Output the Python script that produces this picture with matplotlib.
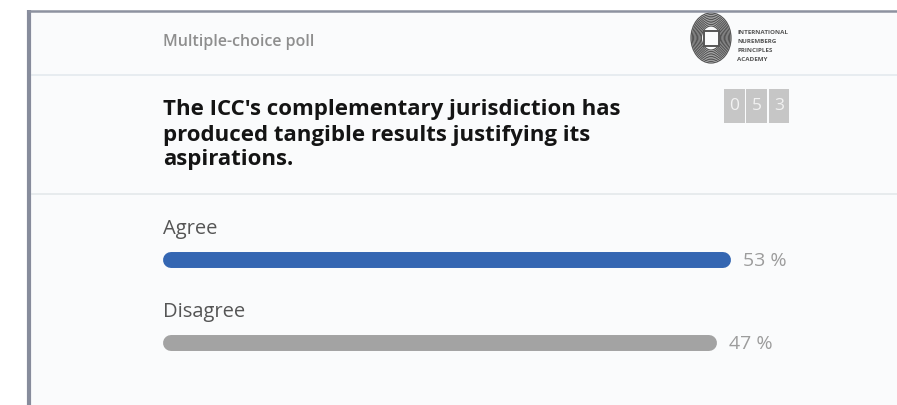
import matplotlib
matplotlib.use("Agg")
import matplotlib.pyplot as plt
from matplotlib.patches import Rectangle, Ellipse

plt.rcParams['font.family'] = ['Open Sans', 'DejaVu Sans']

# ---- data ----
poll_type = "Multiple-choice poll"
question_lines = ["The ICC's complementary jurisdiction has",
                  "produced tangible results justifying its",
                  "aspirations."]
categories = ["Agree", "Disagree"]
percentages = [53, 47]
bar_colors = ["#3466b2", "#a3a3a3"]
vote_count_digits = ["0", "5", "3"]
logo_lines = ["INTERNATIONAL", "NUREMBERG", "PRINCIPLES", "ACADEMY"]

W, H = 897, 405
fig = plt.figure(figsize=(W / 100, H / 100), dpi=100)
fig.patch.set_facecolor("white")

ax = fig.add_axes([0, 0, 1, 1])
ax.set_xlim(0, W)
ax.set_ylim(H, 0)
ax.axis("off")

# panel background + border
ax.add_patch(Rectangle((29, 10), W - 29, H - 10, facecolor="#fafbfc", edgecolor="none", zorder=0))
ax.plot([29, 29], [10, H], color="#878c9c", lw=3.0, solid_capstyle="butt", zorder=3)
ax.plot([28, W], [10.5, 10.5], color="#8d92a0", lw=1.8, solid_capstyle="butt", zorder=3)
ax.plot([32, W], [74.5, 74.5], color="#e4eaee", lw=1.2, zorder=1)
ax.plot([32, W], [193.5, 193.5], color="#e4e8ea", lw=1.2, zorder=1)

# header
ax.text(163, 42, poll_type, fontsize=11.5, fontweight="semibold", color="#8e8e8e",
        ha="left", va="center")

# logo
n_rings = 9
for i in range(n_rings):
    s = 1.0 - i * 0.065
    ax.add_patch(Ellipse((711, 38), 40 * s, 50 * s, facecolor="none",
                         edgecolor="#555555", lw=0.9, zorder=2))
ax.add_patch(Rectangle((703.5, 30.5), 15, 15, facecolor="#fafbfc", edgecolor="#555555", lw=1.4, zorder=2))
for i, t in enumerate(logo_lines):
    ax.text(737, 33 + i * 8.7, t, fontsize=4.5, fontweight="bold", color="#555555",
            ha="left", va="center")

# question
for i, line in enumerate(question_lines):
    ax.text(163, 110 + i * 25, line, fontsize=16, fontweight="bold", color="#141414",
            ha="left", va="center")

# vote counter
for i, d in enumerate(vote_count_digits):
    x0 = 724 + i * 22.3
    ax.add_patch(Rectangle((x0, 89), 20.5, 34, facecolor="#c6c6c6", edgecolor="none", zorder=2))
    ax.text(x0 + 10.25, 106.5, d, fontsize=12.5, color="#f2f2f2", ha="center", va="center", zorder=3)

# ---- bars ----
bax = fig.add_axes([0, 0, 1, 1])
bax.patch.set_alpha(0)
bax.axis("off")
px_per_unit = 14 / 6.0
bar_base = -183.6
start_px = 171
bax.set_xlim(bar_base - start_px / px_per_unit, bar_base + (W - start_px) / px_per_unit)
bax.set_ylim(H, 0)

label_y0, bar_y0, step = 229, 259.5, 83
for i, (cat, val, col) in enumerate(zip(categories, percentages, bar_colors)):
    yb = bar_y0 + i * step
    bax.hlines(yb, bar_base, val, colors=col, linewidth=11.5, capstyle="round")
    ax.text(163, label_y0 + i * step, cat, fontsize=14.5, color="#555555", ha="left", va="center")
    bax.annotate(f"{val} %", xy=(val, yb), xytext=(14.6, -1.4), textcoords="offset points",
                 fontsize=14, color="#9c9c9c", ha="left", va="center")

fig.savefig("out.png", dpi=100)
